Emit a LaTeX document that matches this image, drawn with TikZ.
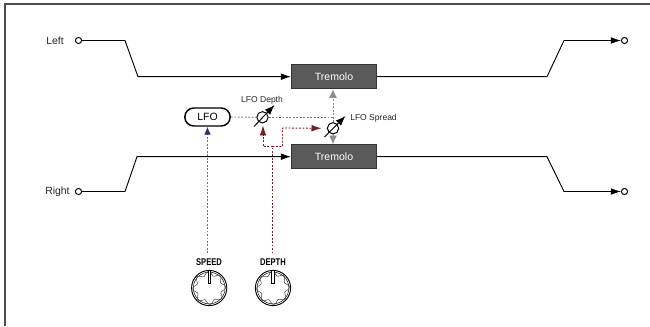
\documentclass[tikz,border=0pt]{standalone}
\usepackage{fontspec}
\usepackage{graphicx}
\setmainfont{Liberation Sans}
\usetikzlibrary{arrows.meta,calc}
\definecolor{boxfill}{HTML}{5A5A5A}
\definecolor{darkred}{HTML}{7A1E24}
\definecolor{navyb}{HTML}{2E2F78}
\definecolor{navyl}{HTML}{6A6AA8}
\definecolor{arrgray}{HTML}{8C8C8C}
\definecolor{dashgray}{HTML}{7A7A7A}
\tikzset{
  x=0.75pt,y=-0.75pt,
  sig/.style={draw=black,line width=0.7pt,line join=miter},
  sigarr/.style={sig,-{Latex[length=7.5pt,width=5pt]}},
  tremolo/.style={draw=black!80,fill=boxfill,line width=0.8pt,minimum width=63.75pt,minimum height=18pt,inner sep=0pt,text=white,font=\fontsize{7.9}{9}\selectfont},
  port/.style={circle,draw=black,fill=white,line width=0.75pt,minimum size=4.6pt,inner sep=0pt},
  lab/.style={inner sep=0pt,text=black!85,font=\fontsize{7.8}{9}\selectfont},
  smalllab/.style={inner sep=0pt,text=black!85,font=\fontsize{6.4}{8}\selectfont},
  knoblab/.style={inner sep=0pt,font=\fontsize{7.3}{8}\selectfont\bfseries},
  pot/.style={circle,draw=black,fill=white,line width=0.75pt,minimum size=8.5pt,inner sep=0pt},
  potarrow/.style={draw=black,line width=0.7pt,-{Latex[length=7.5pt,width=5.5pt]}},
  lfobox/.style={draw=black,line width=1.1pt,rounded corners=6.7pt,minimum width=34pt,minimum height=13.5pt,inner sep=0pt,font=\fontsize{7.9}{9}\selectfont},
  ctrl/.style={line width=0.65pt,dash pattern=on 1.4pt off 1.2pt},
  grayctl/.style={ctrl,draw=dashgray},
  grayarr/.style={ctrl,draw=arrgray,-{Latex[length=6.5pt,width=6pt,color=arrgray]}},
  redctl/.style={ctrl,draw=darkred,-{Latex[length=7.5pt,width=5pt,color=darkred]}},
  bluectl/.style={ctrl,draw=navyl,-{Latex[length=6pt,width=5pt,color=navyb]}},
  knobring/.style={draw=black,line width=0.7pt},
  knobwave/.style={draw=black!70,line width=0.4pt},
}
\begin{document}
\begin{tikzpicture}
\useasboundingbox (0,0) rectangle (650,326);
% frame
\draw[black!70,line width=1.5pt] (4.5,326) -- (4.5,3.5) -- (650,3.5);

% blocks
\node[tremolo] (tu) at (334,76.7) {Tremolo};
\node[tremolo] (tl) at (334,156.7) {Tremolo};
\node[lfobox] (lfo) at (207.5,117) {LFO};
\node[pot] (pd) at (262.5,117.3) {};
\node[pot] (ps) at (333,128.3) {};

% ports
\node[port] (lin) at (78.5,40.5) {};
\node[port] (rin) at (78.5,191.5) {};
\node[port] (lout) at (624.5,40.5) {};
\node[port] (rout) at (624.5,191.5) {};

% labels
\node[lab] (ll) at (55,41) {Left};
\node[lab] (lr) at (57.5,192) {Right};
\node[smalllab] (ld) at (262,100.5) {LFO Depth};
\node[smalllab,anchor=west] (ls) at (350,118.5) {LFO Spread};
\node[knoblab] (sp) at (209,262) {\scalebox{0.78}[1]{SPEED}};
\node[knoblab] (de) at (273,262) {\scalebox{0.78}[1]{DEPTH}};

% knobs
\coordinate (ks) at (209.2,288);
\coordinate (kd) at (273,288);
\foreach \c in {ks,kd}{
  \draw[knobring] (\c) circle[radius=13.2pt];
  \draw[knobring,line width=0.35pt] (\c) circle[radius=11.9pt];
  \draw[knobwave,shift={(\c)}] plot[smooth cycle,samples=64,domain=0:354.375,variable=\t] ({(14.5+2*cos(8*\t+22.5))*cos(\t)},{(14.5+2*cos(8*\t+22.5))*sin(\t)});
  \draw[black,fill=white,line width=0.5pt] ($(\c)+(-1.2,-17.5)$) rectangle ($(\c)+(1.2,-4.7)$);
}

% audio paths
\coordinate (l1) at (125,40.5);
\coordinate (l2) at (138,76.7);
\draw[sigarr] (lin) -- (l1) -- (l2) -- (tu.west);
\coordinate (r1) at (125,191.5);
\coordinate (r2) at (137,156.7);
\draw[sigarr] (rin) -- (r1) -- (r2) -- (tl.west);
\coordinate (l3) at (547,76.7);
\coordinate (l4) at (564,40.5);
\draw[sigarr] (tu.east) -- (l3) -- (l4) -- (lout.west);
\coordinate (r3) at (547,156.7);
\coordinate (r4) at (564,191.5);
\draw[sigarr] (tl.east) -- (r3) -- (r4) -- (rout.west);

% modulation
\coordinate (jct) at (ps.center |- pd);
\draw[grayctl] (lfo.east) -- (pd.west);
\draw[grayctl] (pd.east) -- (jct);
\draw[grayarr] (ps.north) -- (tu.south -| ps);
\draw[grayarr] (ps.south) -- (tl.north -| ps);

% pot arrows
\coordinate (pda) at (254,126.5);
\coordinate (pdb) at (274.5,105);
\draw[potarrow] (pda) -- (pdb);
\coordinate (psa) at (324.5,137);
\coordinate (psb) at (345.5,116);
\draw[potarrow] (psa) -- (psb);

% red control
\coordinate (dtop) at (272.5,146.5);
\coordinate (dl) at (263,146.5);
\coordinate (dr) at (282.5,146.5);
\coordinate (drt) at (282.5,128);
\draw[ctrl,draw=darkred] (de.north -| dtop) ++(0,-5) -- (dtop);
\draw[redctl,shorten >=1.5pt] (dtop) -- (dl) -- (pd.south -| dl);
\draw[redctl,shorten >=4pt] (dtop) -- (dr) -- (drt) -- (ps.west);

% blue control
\draw[bluectl] (sp.north -| lfo.south) ++(0,-5) -- (lfo.south);
\end{tikzpicture}
\end{document}
